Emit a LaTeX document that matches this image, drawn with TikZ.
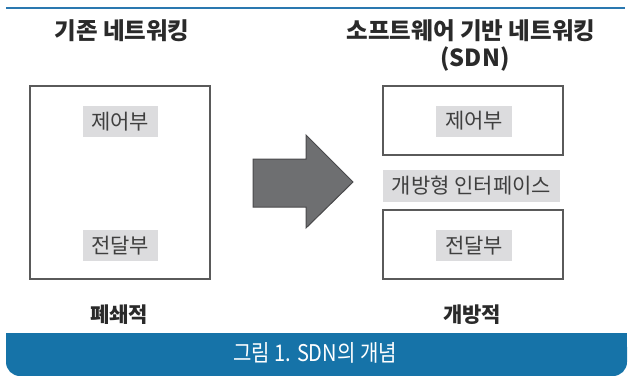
\documentclass[tikz,border=0pt]{standalone}
\usepackage{fontspec}
\setmainfont{Noto Sans CJK KR}
\definecolor{barblue}{HTML}{1673A8}
\definecolor{lineblue}{HTML}{2A78B0}
\definecolor{boxgray}{HTML}{5A5A5A}
\definecolor{labelgray}{HTML}{DCDCDE}
\definecolor{arrowfill}{HTML}{6E6F71}
\definecolor{arrowedge}{HTML}{4A4A4C}
\definecolor{txt}{HTML}{2A2A2A}
\tikzset{
  title/.style={inner sep=0pt, text=txt, font=\fontsize{23.5}{28}\selectfont\bfseries},
  foot/.style={inner sep=0pt, text=txt, font=\fontsize{21}{24}\selectfont\bfseries},
  frame/.style={draw=boxgray, line width=1.4pt, inner sep=0pt},
  tag/.style={fill=labelgray, inner sep=0pt, text=txt!90, font=\fontsize{21}{24}\selectfont},
}
\begin{document}
\begin{tikzpicture}[x=1pt,y=-1pt]
\useasboundingbox (0,0) rectangle (629,375);
% top rule
\coordinate (rl) at (6,8);
\coordinate (rr) at (625,8);
\draw[lineblue, line width=1.3pt] (rl) -- (rr);
% titles
\node[title] (t1) at (122,31) {기존 네트워킹};
\node[title] (t2) at (471,31) {소프트웨어 기반 네트워킹};
\node[title] (t3) at (475,59) {(SDN)};
% left frame
\node[frame, minimum width=180pt, minimum height=193pt] (lb) at (120,182.5) {};
\node[tag, minimum width=75pt, minimum height=31pt] (lc) at (120,121.5) {제어부};
\node[tag, minimum width=75pt, minimum height=31pt] (lf) at (120,245.5) {전달부};
% right frames
\node[frame, minimum width=180pt, minimum height=69pt] (rt) at (473,120.5) {};
\node[frame, minimum width=180pt, minimum height=69pt] (rb) at (473,244.5) {};
\node[tag, minimum width=76pt, minimum height=31pt] (rc) at (474,121) {제어부};
\node[tag, minimum width=76pt, minimum height=31pt] (rf) at (474,245.5) {전달부};
\node[tag, minimum width=177pt, minimum height=32pt] (ri) at (471.5,186) {개방형 인터페이스};
% big arrow
\draw[fill=arrowfill, draw=arrowedge, line width=1pt, line join=miter]
  (253,159) -- (306,159) -- (306,135) -- (353,182) -- (306,228) -- (306,207) -- (253,207) -- cycle;
% footers
\node[foot] (f1) at (119,315) {폐쇄적};
\node[foot] (f2) at (472,315) {개방적};
% caption bar
\fill[barblue, rounded corners=14pt] (6,333) rectangle (627,376);
\fill[barblue] (6,333) rectangle (627,352);
\node[inner sep=0pt, text=white, font=\fontsize{23}{26}\selectfont] (cap) at (315,353) {\scalebox{0.87}[1]{그림 1. SDN의 개념}};
\end{tikzpicture}
\end{document}
